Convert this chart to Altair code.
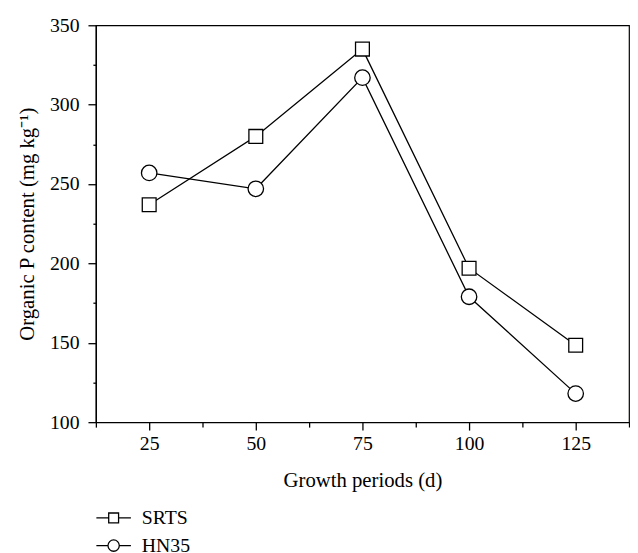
import altair as alt
import pandas as pd

days = [25, 50, 75, 100, 125]
srts = [237, 280, 335, 197, 148.5]
hn35 = [257, 247, 317, 179, 118]
series = ["SRTS", "HN35"]
x_major = [25, 50, 75, 100, 125]
x_minor = [12.5, 37.5, 62.5, 87.5, 112.5, 137.5]
y_major = [100, 150, 200, 250, 300, 350]
y_minor = [125, 175, 225, 275, 325]

df = pd.DataFrame({
    "day": days * 2,
    "value": srts + hn35,
    "series": ["SRTS"] * len(days) + ["HN35"] * len(days),
})

FONT = "Liberation Serif"
LFS = 20
TFS = 21
xscale = alt.Scale(domain=[12.5, 137.5], nice=False, zero=False)
yscale = alt.Scale(domain=[100, 350], nice=False, zero=False)

common_axis = dict(grid=False, domainColor="black", tickColor="black",
                   domainWidth=1.3, tickWidth=1.3, labelColor="black",
                   titleColor="black", labelFont=FONT, titleFont=FONT,
                   labelFontSize=LFS, titleFontSize=TFS, titleFontWeight="normal")

base = alt.Chart(df)

line = base.mark_line(color="black", strokeWidth=1.3).encode(
    x=alt.X("day:Q", scale=xscale,
            axis=alt.Axis(values=x_major, title="Growth periods (d)", tickSize=8,
                          labelPadding=4, titlePadding=16, orient="bottom", **common_axis)),
    y=alt.Y("value:Q", scale=yscale,
            axis=alt.Axis(values=y_major, title="Organic P content (mg kg⁻¹)", tickSize=8,
                          labelPadding=9, titlePadding=12, orient="left", **common_axis)),
    detail="series:N",
)

points = base.mark_point(filled=True, fill="white", stroke="black", strokeWidth=1.3, opacity=1).encode(
    x=alt.X("day:Q", scale=xscale,
            axis=alt.Axis(values=x_minor, labels=False, title=None, domain=False,
                          tickSize=5, orient="bottom", grid=False, tickColor="black", tickWidth=1.3)),
    y=alt.Y("value:Q", scale=yscale,
            axis=alt.Axis(values=y_minor, labels=False, title=None, domain=False,
                          tickSize=3, orient="left", grid=False, tickColor="black", tickWidth=1.3)),
    shape=alt.Shape("series:N", scale=alt.Scale(domain=series, range=["square", "circle"]), legend=None),
    size=alt.Size("series:N", scale=alt.Scale(domain=series, range=[196, 246]), legend=None),
)

sq_path = "M-1.25,0 L-0.357,0 M0.357,0 L1.25,0 M-0.357,-0.357 L0.357,-0.357 L0.357,0.357 L-0.357,0.357 Z"
ci_path = ("M-1.25,0 L-0.41,0 M0.41,0 L1.25,0 "
           "M-0.41,0 A0.41,0.41 0 1,0 0.41,0 A0.41,0.41 0 1,0 -0.41,0 Z")

legend_layer = base.transform_filter("datum.day < 0").mark_point(
    filled=False, color="black", strokeWidth=1.3, opacity=1).encode(
    x=alt.X("day:Q", scale=xscale, axis=None),
    y=alt.Y("value:Q", scale=yscale, axis=None),
    shape=alt.Shape("series:N", scale=alt.Scale(domain=series, range=[sq_path, ci_path]),
                    legend=alt.Legend(title=None, orient="none", legendX=3, legendY=484,
                                      symbolSize=784, symbolStrokeWidth=1.3,
                                      symbolStrokeColor="black",
                                      labelFont=FONT, labelFontSize=LFS, labelColor="black",
                                      labelOffset=13.5, rowPadding=3, padding=0,
                                      symbolOpacity=1)),
)

chart = alt.layer(line, points, legend_layer).resolve_scale(
    shape="independent", size="independent"
).resolve_axis(x="independent", y="independent").properties(
    width=540, height=402,
    padding={"left": 89, "top": 14, "right": 1, "bottom": 129},
    autosize=alt.AutoSizeParams(type="none"),
).configure_view(stroke="black", strokeWidth=1.2)

chart.save("out.html", embed_options={"renderer": "svg", "actions": False})
